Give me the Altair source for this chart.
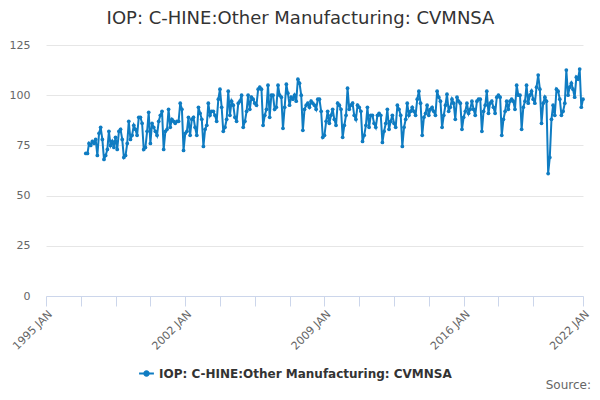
import altair as alt
import pandas as pd

SERIES = "IOP: C-HINE:Other Manufacturing: CVMNSA"
BLUE = "#0f7cc2"

# monthly index values, Jan 1997 .. Jan 2022
v1997 = [71, 71, 76, 75, 77, 76, 78, 70, 81, 84, 78, 68]
v1998 = [70, 73, 82, 75, 77, 74, 79, 73, 82, 83, 78, 69]
v1999 = [70, 76, 87, 78, 80, 85, 83, 80, 89, 89, 86, 73]
v2000 = [74, 82, 91.5, 76, 86, 84, 82, 80, 87, 90, 92, 73]
v2001 = [82, 83, 93, 84, 88, 87, 86, 87, 87, 96, 93, 72.5]
v2002 = [81, 82, 89, 80, 88, 89, 84, 80, 94, 91, 88, 74.5]
v2003 = [83, 85, 96, 90, 92, 92, 90, 87, 98, 103, 94, 82]
v2004 = [84, 88, 102, 90, 97, 95, 89, 87, 96, 97, 100, 84]
v2005 = [87, 92, 100, 93, 99, 98, 96, 95, 103, 104, 103, 85]
v2006 = [90, 93, 105, 89, 100, 100, 93, 94, 105, 100, 99, 83.5]
v2007 = [94, 105.5, 101, 95, 99, 98, 100, 97, 108, 106, 100, 82.5]
v2008 = [93, 95, 96, 94, 97, 96, 95, 93, 98, 98, 92, 79]
v2009 = [80, 87, 92, 86, 90, 93, 88, 85, 96, 95, 93, 79]
v2010 = [85, 90, 103.5, 93, 95, 96, 90, 88, 95, 94, 92, 77]
v2011 = [80, 85, 94, 84, 90, 90, 86, 84, 90, 91, 90, 76.5]
v2012 = [82, 86, 93, 83, 87, 90, 86, 84, 95, 93, 90, 74.5]
v2013 = [84, 88, 96, 90, 92, 94, 92, 90, 98, 102, 96, 80]
v2014 = [89, 91, 95, 90, 93, 94, 92, 90, 102, 99, 97, 84]
v2015 = [90, 95, 100.5, 92, 94, 98, 96, 88, 99, 97, 96, 83]
v2016 = [89, 92, 96, 91, 93, 97, 93, 90, 97, 98, 98, 82]
v2017 = [92, 95, 102, 91, 96, 97, 94, 91, 99, 100, 99, 80]
v2018 = [88, 92, 97, 93, 97, 98, 97, 93, 105, 100, 100, 83]
v2019 = [94, 97, 105, 96, 100, 102, 98, 96, 104, 110, 103, 86]
v2020 = [96, 99, 97, 61, 69, 88, 95, 90, 103, 102, 98, 90]
v2021 = [92, 96, 112.5, 100, 104, 106, 103, 99, 109, 108, 113, 94]
v2022 = [98]

values = (v1997 + v1998 + v1999 + v2000 + v2001 + v2002 + v2003 + v2004
          + v2005 + v2006 + v2007 + v2008 + v2009 + v2010 + v2011 + v2012
          + v2013 + v2014 + v2015 + v2016 + v2017 + v2018 + v2019 + v2020
          + v2021 + v2022)
months = pd.date_range("1997-01-01", periods=len(values), freq="MS")

df = pd.DataFrame({
    "date": months.strftime("%Y-%m-%d"),
    "value": values,
    "series": SERIES,
})

# x ticks every 21 months, plus the end of the axis
tick_ym = [(1995, 1), (1996, 10), (1998, 7), (2000, 4), (2002, 1), (2003, 10),
           (2005, 7), (2007, 4), (2009, 1), (2010, 10), (2012, 7), (2014, 4),
           (2016, 1), (2017, 10), (2019, 7), (2022, 1)]
tick_values = [alt.DateTime(year=y, month=m, date=1, utc=True) for y, m in tick_ym]

font = "DejaVu Sans"

line = alt.Chart(df).mark_line(
    strokeWidth=2,
    point=alt.OverlayMarkDef(filled=True, size=14, color=BLUE),
).encode(
    x=alt.X(
        "date:T",
        scale=alt.Scale(
            type="utc",
            domain=[alt.DateTime(year=1995, month=1, date=1, utc=True),
                    alt.DateTime(year=2022, month=1, date=1, utc=True)],
        ),
        axis=alt.Axis(
            title=None,
            values=tick_values,
            labelExpr="utcmonth(datum.value) == 0 ? upper(utcFormat(datum.value, '%Y %b')) : ''",
            labelAngle=-45,
            labelAlign="right",
            labelBaseline="top",
            labelFontSize=11,
            labelColor="#666666",
            labelFont=font,
            labelPadding=2,
            labelOverlap=False,
            labelBound=False,
            labelFlush=False,
            grid=False,
            domainColor="#ccd6eb",
            tickColor="#ccd6eb",
            tickSize=10,
        ),
    ),
    y=alt.Y(
        "value:Q",
        scale=alt.Scale(domain=[0, 125], nice=False),
        axis=alt.Axis(
            title=None,
            values=[0, 25, 50, 75, 100, 125],
            labelFontSize=11,
            labelColor="#666666",
            labelFont=font,
            labelPadding=16,
            domain=False,
            ticks=False,
            gridColor="#e6e6e6",
        ),
    ),
    color=alt.Color(
        "series:N",
        scale=alt.Scale(domain=[SERIES], range=[BLUE]),
        legend=alt.Legend(
            title=None,
            orient="none",
            legendX=92,
            legendY=320,
            symbolType="M-1,0H1M-0.3,0a0.3,0.3 0 1,0 0.6,0a0.3,0.3 0 1,0 -0.6,0",
            symbolSize=220,
            symbolStrokeWidth=2,
            symbolFillColor=BLUE,
            labelFont=font,
            labelFontSize=12,
            labelFontWeight="bold",
            labelColor="#333333",
            labelLimit=0,
        ),
    ),
)

source = alt.Chart(pd.DataFrame({"t": ["Source:"]})).mark_text(
    align="right", baseline="middle", font=font, fontSize=12, color="#666666"
).encode(
    x=alt.value(545),
    y=alt.value(340),
    text="t:N",
)

chart = alt.layer(line, source).properties(
    width=537,
    height=251,
    autosize=alt.AutoSizeParams(type="none"),
    padding={"left": 38, "top": 37, "right": 9, "bottom": 96},
    title=alt.Title(
        "IOP: C-HINE:Other Manufacturing: CVMNSA",
        font=font,
        fontSize=18,
        fontWeight="normal",
        color="#333333",
        offset=11,
        dx=-14,
    ),
).configure_view(stroke=None)

chart.save("out.html", embed_options={"renderer": "svg", "actions": False})
